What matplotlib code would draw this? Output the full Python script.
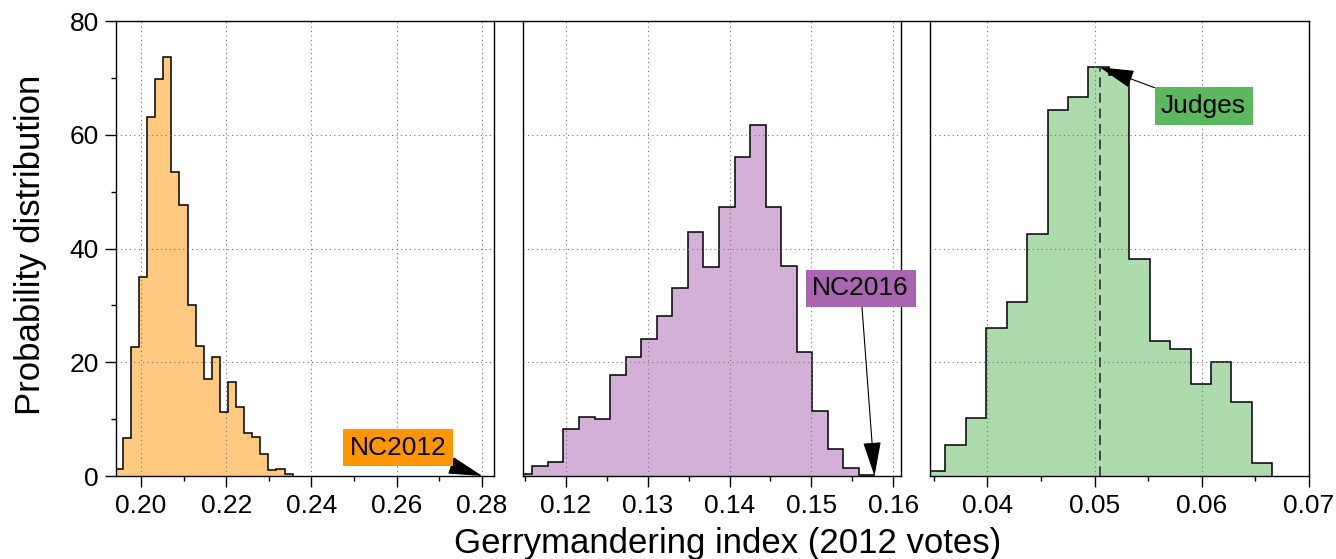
import numpy as np
import matplotlib
matplotlib.use("Agg")
import matplotlib.pyplot as plt
from matplotlib.ticker import MultipleLocator, FormatStrFormatter
from matplotlib.lines import Line2D

plt.rcParams['font.family'] = ['Liberation Sans', 'DejaVu Sans']

# ---------------- data ----------------
# NC2012 ensemble
nc2012_start = 0.19387
nc2012_width = 0.001896
nc2012_heights = [1.3, 6.6, 22.7, 35.0, 63.2, 69.8, 73.8, 53.5, 47.7, 30.0, 22.9,
                  17.0, 21.0, 11.2, 16.6, 12.2, 7.5, 6.8, 3.8, 1.0, 1.2, 0.4]
nc2012_value = 0.2801

# NC2016 ensemble
nc2016_start = 0.11404
nc2016_width = 0.001898
nc2016_heights = [0.4, 1.7, 2.4, 8.2, 10.4, 10.0, 17.7, 20.9, 24.1, 28.1, 33.1, 42.9,
                  36.8, 47.4, 56.2, 61.8, 47.4, 37.0, 21.8, 11.5, 4.7, 1.4, 0.25]
nc2016_value = 0.1577

# Judges ensemble
judges_start = 0.03418
judges_width = 0.001906
judges_heights = [0.8, 5.5, 10.2, 26.1, 30.7, 42.5, 64.4, 66.7, 71.9, 70.5, 38.2,
                  23.8, 22.3, 16.2, 20.0, 13.1, 2.2]
judges_value = 0.0505

panels = [
    dict(start=nc2012_start, width=nc2012_width, heights=nc2012_heights,
         color='#FF9500', xlim=(0.19405, 0.2829), major=0.02, minor=0.01,
         label='NC2012', mark=nc2012_value, text_xy=(0.2603, 5.0)),
    dict(start=nc2016_start, width=nc2016_width, heights=nc2016_heights,
         color='#A965B0', xlim=(0.11476, 0.16098), major=0.01, minor=0.005,
         label='NC2016', mark=nc2016_value, text_xy=(0.1560, 33.0)),
    dict(start=judges_start, width=judges_width, heights=judges_heights,
         color='#5CB85C', xlim=(0.03468, 0.0700), major=0.01, minor=0.005,
         label='Judges', mark=judges_value, text_xy=(0.06017, 65.1)),
]

fig = plt.figure(figsize=(13.36, 5.59), dpi=100)

W, H = 1336, 559
lefts = [115.6, 522.7, 930.3]
axw = 378.7
top_px, bot_px = 21.3, 476.0

for i, p in enumerate(panels):
    ax = fig.add_axes([lefts[i] / W, 1 - bot_px / H, axw / W, (bot_px - top_px) / H])
    h = np.array(p['heights'])
    edges = p['start'] + p['width'] * np.arange(len(h) + 1)

    ax.stairs(h, edges, fill=True, facecolor=p['color'], alpha=0.5, linewidth=0)
    ax.stairs(h, edges, baseline=0, color='black', linewidth=1.1)

    ax.set_xlim(*p['xlim'])
    ax.set_ylim(0, 80)
    ax.xaxis.set_major_locator(MultipleLocator(p['major']))
    ax.xaxis.set_minor_locator(MultipleLocator(p['minor']))
    ax.xaxis.set_major_formatter(FormatStrFormatter('%.2f'))
    ax.yaxis.set_major_locator(MultipleLocator(20))
    ax.yaxis.set_minor_locator(MultipleLocator(10))
    ax.grid(True, which='major', linestyle=(0, (1, 3)), color='0.45', linewidth=0.8)
    ax.set_axisbelow(False)

    ax.tick_params(axis='x', which='major', direction='out', length=8, width=1,
                   labelsize=19, pad=5)
    ax.tick_params(axis='x', which='minor', direction='out', length=3.8, width=1)
    ax.tick_params(axis='x', top=False)
    if i == 0:
        ax.tick_params(axis='y', which='major', direction='out', length=8, width=1,
                       labelsize=19, pad=4)
        ax.tick_params(axis='y', which='minor', direction='out', length=3.8, width=1)
    else:
        ax.tick_params(axis='y', which='both', left=False, labelleft=False)
    ax.spines['top'].set_visible(False)
    for s in ['left', 'right', 'bottom']:
        ax.spines[s].set_linewidth(1.0)

    if i == 2:
        # dashed marker for the judges' plan, up to the bin it falls in
        k = int((judges_value - p['start']) // p['width'])
        ax.plot([judges_value, judges_value], [0, h[k]], linestyle=(0, (5, 3)),
                color='#444444', linewidth=1.4)
        tip = (judges_value, h[k])
    else:
        tip = (p['mark'], 0)

    ax.annotate(p['label'], xy=tip, xytext=p['text_xy'], ha='center', va='center',
                fontsize=19, color='black', annotation_clip=False,
                bbox=dict(boxstyle='square,pad=0.25', facecolor=p['color'], edgecolor='none'),
                arrowprops=dict(arrowstyle='-|>,head_length=1.15,head_width=0.3',
                                color='black', lw=0.8, shrinkA=0, shrinkB=0))

# continuous top frame line
fig.add_artist(Line2D([lefts[0] / W, (lefts[2] + axw) / W], [1 - top_px / H, 1 - top_px / H],
                      transform=fig.transFigure, color='black', linewidth=1.0))

fig.text(0.5445, 1 - 543 / H, 'Gerrymandering index (2012 votes)', ha='center', va='center',
         fontsize=25)
fig.text(0.0225, 1 - 245 / H, 'Probability distribution', ha='center', va='center',
         rotation=90, fontsize=25)

fig.savefig('out.png', dpi=100)
